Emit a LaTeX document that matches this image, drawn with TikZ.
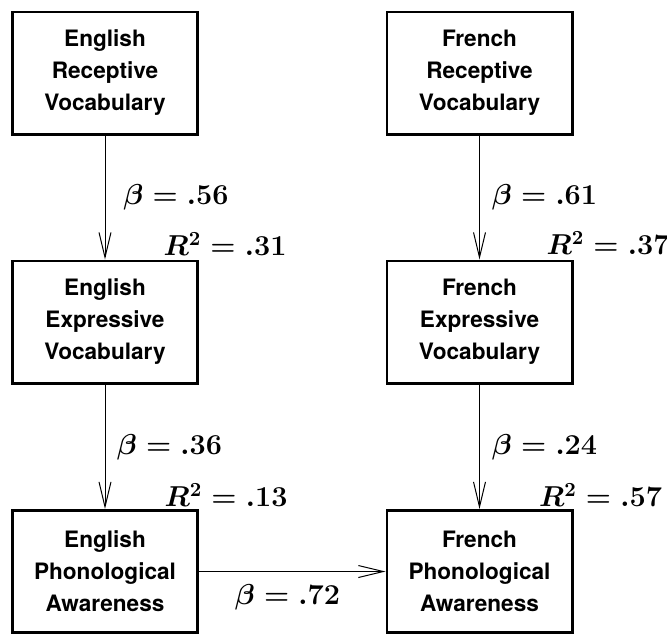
\documentclass[tikz,border=0pt]{standalone}
\usepackage{fontspec}
\setmainfont{TeX Gyre Heros}
\usetikzlibrary{arrows.meta}
\tikzset{
  measure/.style={draw, line width=1.3pt, minimum width=92.7pt, minimum height=61.2pt,
    align=center, inner sep=0pt, font=\fontsize{11.3}{16}\selectfont\bfseries},
  path/.style={line width=0.5pt, -{Straight Barb[length=12.5pt,width=6pt]}},
  coef/.style={font=\fontsize{13.8}{16}\selectfont\boldmath, inner sep=0pt}
}
\begin{document}
\begin{tikzpicture}[x=0.5pt,y=-0.5pt]
  \useasboundingbox (0,0) rectangle (667,634);
  % Left: English
  \node[measure] (engrec) at (105,73)    {English\\Receptive\\Vocabulary};
  \node[measure] (engexp) at (105,322)   {English\\Expressive\\Vocabulary};
  \node[measure] (engpho) at (105,571.5) {English\\Phonological\\Awareness};
  % Right: French
  \node[measure] (frerec) at (479.5,73)    {French\\Receptive\\Vocabulary};
  \node[measure] (freexp) at (479.5,322)   {French\\Expressive\\Vocabulary};
  \node[measure] (frepho) at (479.5,571.5) {French\\Phonological\\Awareness};
  % paths
  \draw[path] (engrec) -- (engexp);
  \draw[path] (engexp) -- (engpho);
  \draw[path] (frerec) -- (freexp);
  \draw[path] (freexp) -- (frepho);
  \draw[path] (engpho) -- (frepho);
  % coefficients
  \node[coef] (beta1) at (176,197)   {$\beta = .56$};
  \node[coef] (rsq1)  at (225,244)   {$R^2 = .31$};
  \node[coef] (beta2) at (544.5,197) {$\beta = .61$};
  \node[coef] (rsq2)  at (608,243)   {$R^2 = .37$};
  \node[coef] (beta3) at (169.5,447) {$\beta = .36$};
  \node[coef] (rsq3)  at (226,495)   {$R^2 = .13$};
  \node[coef] (beta4) at (544.5,447) {$\beta = .24$};
  \node[coef] (rsq4)  at (600.5,495) {$R^2 = .57$};
  \node[coef] (beta5) at (287.5,597) {$\beta = .72$};
\end{tikzpicture}
\end{document}
